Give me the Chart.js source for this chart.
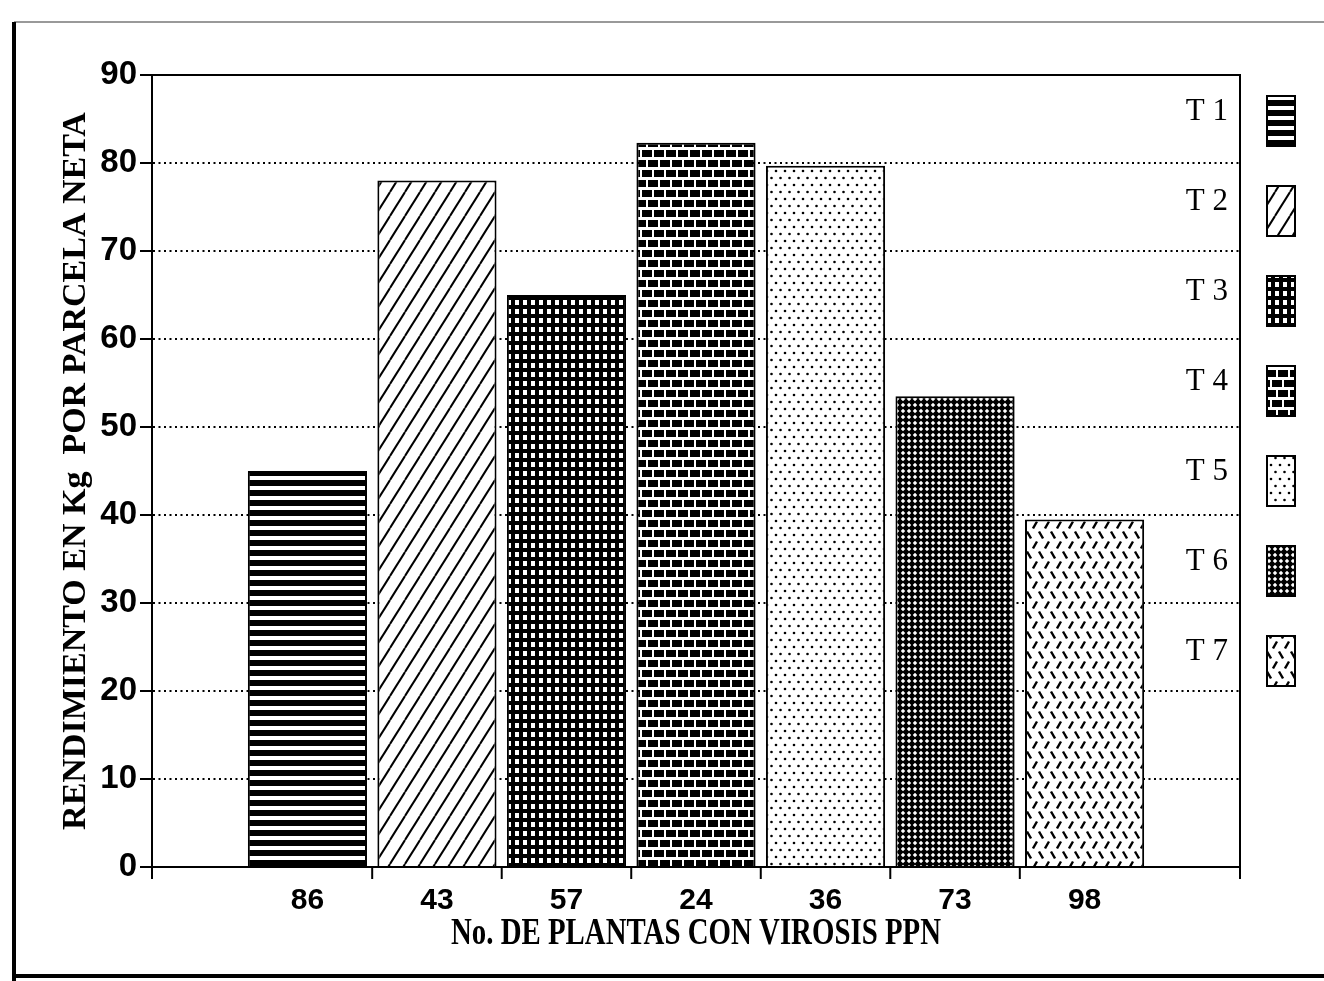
<!DOCTYPE html>
<html>
<head>
<meta charset="utf-8">
<script src="https://cdn.jsdelivr.net/npm/chart.js@4.4.1/dist/chart.umd.min.js"></script>
<style>
  html, body { margin: 0; padding: 0; background: #fff; }
  #wrap { width: 1324px; height: 981px; }
</style>
</head>
<body>
<div id="wrap"><canvas id="yieldChart" width="1324" height="981"></canvas></div>
<script>
/* =====================================
   Data
===================================== */
const xLabels = ["86", "43", "57", "24", "36", "73", "98"];
const treatments = ["T1", "T2", "T3", "T4", "T5", "T6", "T7"];
const yields = [45, 78, 65, 82.3, 79.7, 53.5, 39.5];
const yTicks = [0, 10, 20, 30, 40, 50, 60, 70, 80, 90];
const yTitle = "RENDIMIENTO EN Kg  POR PARCELA NETA";
const xTitle = "No. DE PLANTAS CON VIROSIS PPN";

const canvas = document.getElementById("yieldChart");
const ctx = canvas.getContext("2d");

/* =====================================
   Fill patterns (one per treatment)
===================================== */
function tile(w, h, draw) {
  const c = document.createElement("canvas");
  c.width = w;
  c.height = h;
  const g = c.getContext("2d");
  g.fillStyle = "#fff";
  g.fillRect(0, 0, w, h);
  g.fillStyle = "#000";
  g.strokeStyle = "#000";
  draw(g, w, h);
  return ctx.createPattern(c, "repeat");
}

function seg(g, x1, y1, x2, y2) {
  g.beginPath();
  g.moveTo(x1, y1);
  g.lineTo(x2, y2);
  g.stroke();
}

function dot(g, x, y, r) {
  g.beginPath();
  g.arc(x, y, r, 0, Math.PI * 2);
  g.fill();
}

const patterns = [
  // T1 horizontal bands
  tile(4, 10, (g) => g.fillRect(0, 0, 4, 6)),
  // T2 diagonal lines
  tile(15, 24, (g, w, h) => {
    g.lineWidth = 2;
    [-w, 0, w].forEach((dx) => seg(g, dx, h, dx + w, 0));
  }),
  // T3 grid
  tile(8, 9, (g) => {
    g.fillRect(0, 0, 8, 9);
    g.fillStyle = "#fff";
    g.fillRect(3, 3, 4, 5);
  }),
  // T4 bricks
  tile(12, 20, (g) => {
    g.fillRect(0, 0, 10, 7);
    g.fillRect(6, 10, 10, 7);
    g.fillRect(-6, 10, 10, 7);
  }),
  // T5 sparse dots
  tile(9, 14, (g) => {
    dot(g, 2, 3, 1.3);
    dot(g, 6.5, 10, 1.3);
  }),
  // T6 dense crosshatch
  tile(6, 6, (g) => {
    g.fillRect(0, 0, 6, 6);
    g.fillStyle = "#fff";
    g.beginPath();
    g.moveTo(3, 0.8);
    g.lineTo(5.2, 3);
    g.lineTo(3, 5.2);
    g.lineTo(0.8, 3);
    g.closePath();
    g.fill();
  }),
  // T7 herringbone dashes
  tile(12, 20, (g) => {
    g.lineWidth = 2.4;
    seg(g, 1, 8.5, 5, 1.5);
    seg(g, 7, 11.5, 11, 18.5);
  })
];

/* =====================================
   Plugins
===================================== */
const framePlugin = {
  id: "frame",
  beforeDraw(chart) {
    const c = chart.ctx;
    c.save();
    c.fillStyle = "#fff";
    c.fillRect(0, 0, chart.width, chart.height);
    c.strokeStyle = "#999";
    c.lineWidth = 2;
    seg(c, 14, 22, chart.width, 22);
    c.strokeStyle = "#000";
    c.lineWidth = 4;
    seg(c, 14, 22, 14, chart.height);
    seg(c, 14, 976, chart.width, 976);
    c.restore();
  }
};

const plotBoxPlugin = {
  id: "plotBox",
  afterDraw(chart) {
    const c = chart.ctx;
    const a = chart.chartArea;
    const xs = chart.scales.x;

    c.save();
    c.strokeStyle = "#000";
    c.lineWidth = 2;
    c.beginPath();
    c.moveTo(a.left, a.top);
    c.lineTo(a.right, a.top);
    c.lineTo(a.right, a.bottom);
    c.stroke();

    // tick marks between the categories
    const marks = [xs.min, xs.max];
    for (let i = 0; i < xLabels.length - 1; i++) marks.push(i + 0.5);
    marks.forEach((v) => {
      const px = xs.getPixelForValue(v);
      seg(c, px, a.bottom, px, a.bottom + 12);
    });

    // x axis title, condensed serif
    c.fillStyle = "#000";
    c.font = "bold 38px 'Liberation Serif'";
    c.textAlign = "center";
    c.textBaseline = "middle";
    const w = c.measureText(xTitle).width;
    c.translate(xs.getPixelForValue(3), a.bottom + 67);
    c.scale(490 / w, 1);
    c.fillText(xTitle, 0, 0);
    c.restore();
  }
};

const legendPlugin = {
  id: "patternLegend",
  afterDraw(chart) {
    const c = chart.ctx;
    const a = chart.chartArea;
    c.save();
    c.font = "31px 'Liberation Serif'";
    c.textAlign = "right";
    c.textBaseline = "middle";
    treatments.forEach((t, i) => {
      const y = a.top + 37 + i * 90;
      c.fillStyle = "#000";
      c.fillText(t.split("").join(" "), a.right - 12, y);
      c.fillStyle = patterns[i];
      c.fillRect(a.right + 27, y - 16, 28, 50);
      c.strokeStyle = "#000";
      c.lineWidth = 2;
      c.strokeRect(a.right + 27, y - 16, 28, 50);
    });
    c.restore();
  }
};

/* =====================================
   Chart
===================================== */
new Chart(canvas, {

  type: "bar",

  data: {
    datasets: [
      {
        label: "Rendimiento",
        data: yields.map((v, i) => ({ x: i, y: v })),
        backgroundColor: patterns,
        borderColor: "#000",
        borderWidth: 2,
        barPercentage: 0.92,
        categoryPercentage: 1
      }
    ]
  },

  options: {
    responsive: false,
    animation: false,
    layout: {
      padding: { left: 40, right: 84, top: 75, bottom: 54 }
    },
    plugins: {
      legend: { display: false },
      tooltip: { enabled: false }
    },
    scales: {
      x: {
        type: "linear",
        min: -1.2,
        max: 7.2,
        offset: false,
        afterBuildTicks: (s) => {
          s.ticks = xLabels.map((_, i) => ({ value: i }));
        },
        afterFit: (s) => { s.height = 60; },
        ticks: {
          callback: (v) => xLabels[v],
          font: { family: "Liberation Sans", size: 30, weight: "bold" },
          color: "#000",
          padding: 16,
          maxRotation: 0,
          autoSkip: false
        },
        grid: { display: false, drawTicks: false },
        border: { display: true, color: "#000", width: 2 }
      },
      y: {
        min: 0,
        max: 90,
        afterBuildTicks: (s) => {
          s.ticks = yTicks.map((v) => ({ value: v }));
        },
        afterFit: (s) => { s.width = 112; },
        ticks: {
          font: { family: "Liberation Sans", size: 33, weight: "bold" },
          color: "#000",
          padding: 3
        },
        grid: {
          color: "#000",
          lineWidth: 2,
          tickLength: 12,
          tickColor: "#000",
          tickWidth: 2,
          tickBorderDash: []
        },
        border: { display: true, color: "#000", width: 2, dash: [2, 3.5] },
        title: {
          display: true,
          text: yTitle,
          color: "#000",
          font: { family: "Liberation Serif", size: 34, weight: "bold" },
          padding: { top: 16, bottom: 0 }
        }
      }
    }
  },

  plugins: [framePlugin, plotBoxPlugin, legendPlugin]
});
</script>
</body>
</html>
